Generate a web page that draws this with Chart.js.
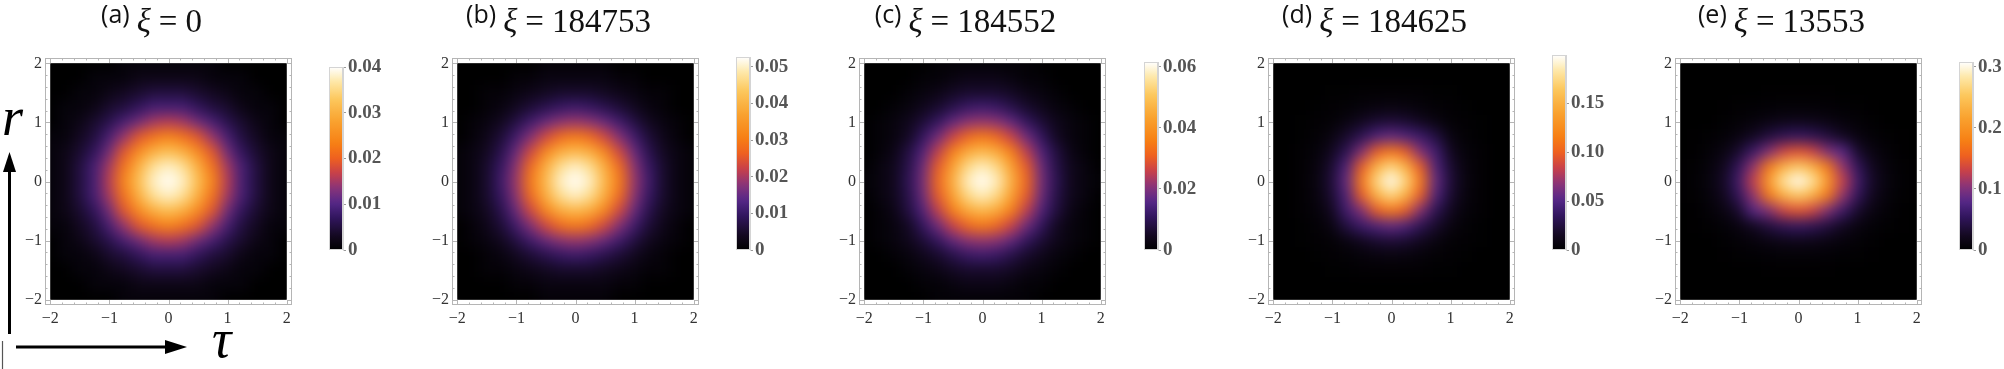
<!DOCTYPE html>
<html>
<head>
<meta charset="utf-8">
<script src="https://cdn.jsdelivr.net/npm/chart.js@4.4.1/dist/chart.umd.min.js"></script>
<style>
html, body { margin: 0; padding: 0; background: #fff; }
body { width: 2004px; height: 369px; position: relative; overflow: hidden; }
canvas { position: absolute; top: 0; }
</style>
</head>
<body>
<script>
// grid of the density plots (tau along x, r along y, rows listed top to bottom)
const tauGrid = [-2, -1.75, -1.5, -1.25, -1, -0.75, -0.5, -0.25, 0, 0.25, 0.5, 0.75, 1, 1.25, 1.5, 1.75, 2];
const rGrid = [2, 1.75, 1.5, 1.25, 1, 0.75, 0.5, 0.25, 0, -0.25, -0.5, -0.75, -1, -1.25, -1.5, -1.75, -2];
const DENSITY_UNIT = 1e-3; // matrices below are in units of 10^-3

const densityA = [
    [0,0,0,0,0,1,1,1,1,1,1,1,0,0,0,0,0],
    [0,0,0,1,1,1,2,2,2,2,2,1,1,1,0,0,0],
    [0,0,1,1,2,3,4,5,5,5,4,3,2,1,1,0,0],
    [0,1,1,2,4,5,7,9,9,9,7,5,4,2,1,1,0],
    [0,1,2,4,6,9,12,15,16,15,12,9,6,4,2,1,0],
    [1,1,3,5,9,14,19,22,24,22,19,14,9,5,3,1,1],
    [1,2,4,7,12,19,25,30,32,30,25,19,12,7,4,2,1],
    [1,2,5,9,15,22,30,36,38,36,30,22,15,9,5,2,1],
    [1,2,5,9,16,24,32,38,40,38,32,24,16,9,5,2,1],
    [1,2,5,9,15,22,30,36,38,36,30,22,15,9,5,2,1],
    [1,2,4,7,12,19,25,30,32,30,25,19,12,7,4,2,1],
    [1,1,3,5,9,14,19,22,24,22,19,14,9,5,3,1,1],
    [0,1,2,4,6,9,12,15,16,15,12,9,6,4,2,1,0],
    [0,1,1,2,4,5,7,9,9,9,7,5,4,2,1,1,0],
    [0,0,1,1,2,3,4,5,5,5,4,3,2,1,1,0,0],
    [0,0,0,1,1,1,2,2,2,2,2,1,1,1,0,0,0],
    [0,0,0,0,0,1,1,1,1,1,1,1,0,0,0,0,0]
];

const densityB = [
    [0,0,0,0,0,0,1,1,1,1,1,0,0,0,0,0,0],
    [0,0,0,0,1,1,2,2,2,2,2,1,1,0,0,0,0],
    [0,0,1,1,2,3,4,5,5,5,4,3,2,1,1,0,0],
    [0,0,1,2,4,6,8,10,11,10,8,6,4,2,1,0,0],
    [0,1,2,4,7,11,15,18,19,18,15,11,7,4,2,1,0],
    [0,1,3,6,11,17,23,28,30,28,23,17,11,6,3,1,0],
    [1,2,4,8,15,23,32,39,41,39,32,23,15,8,4,2,1],
    [1,2,5,10,18,28,39,47,50,47,39,28,18,10,5,2,1],
    [1,2,5,11,19,30,41,50,53,50,41,30,19,11,5,2,1],
    [1,2,5,10,18,28,39,47,50,47,39,28,18,10,5,2,1],
    [1,2,4,8,15,23,32,39,41,39,32,23,15,8,4,2,1],
    [0,1,3,6,11,17,23,28,30,28,23,17,11,6,3,1,0],
    [0,1,2,4,7,11,15,18,19,18,15,11,7,4,2,1,0],
    [0,0,1,2,4,6,8,10,11,10,8,6,4,2,1,0,0],
    [0,0,1,1,2,3,4,5,5,5,4,3,2,1,1,0,0],
    [0,0,0,0,1,1,2,2,2,2,2,1,1,0,0,0,0],
    [0,0,0,0,0,0,1,1,1,1,1,0,0,0,0,0,0]
];

const densityC = [
    [0,0,0,0,0,1,1,1,1,1,1,1,0,0,0,0,0],
    [0,0,0,0,1,1,2,3,3,3,2,1,1,0,0,0,0],
    [0,0,0,1,2,3,5,6,6,6,5,3,2,1,0,0,0],
    [0,0,1,2,4,6,9,12,13,12,9,6,4,2,1,0,0],
    [0,1,2,4,7,11,17,21,22,21,17,11,7,4,2,1,0],
    [0,1,2,5,11,18,26,32,35,32,26,18,11,5,2,1,0],
    [0,1,3,8,15,25,36,45,48,45,36,25,15,8,3,1,0],
    [0,2,4,9,18,30,43,54,58,54,43,30,18,9,4,2,0],
    [1,2,4,10,19,32,46,58,62,58,46,32,19,10,4,2,1],
    [0,2,4,9,18,30,43,54,58,54,43,30,18,9,4,2,0],
    [0,1,3,8,15,25,36,45,48,45,36,25,15,8,3,1,0],
    [0,1,2,5,11,18,26,32,35,32,26,18,11,5,2,1,0],
    [0,1,2,4,7,11,17,21,22,21,17,11,7,4,2,1,0],
    [0,0,1,2,4,6,9,12,13,12,9,6,4,2,1,0,0],
    [0,0,0,1,2,3,5,6,6,6,5,3,2,1,0,0,0],
    [0,0,0,0,1,1,2,3,3,3,2,1,1,0,0,0,0],
    [0,0,0,0,0,1,1,1,1,1,1,1,0,0,0,0,0]
];

const densityD = [
    [0,0,0,0,0,0,0,0,0,0,0,0,0,0,0,0,0],
    [0,0,0,0,0,0,0,0,0,0,0,0,0,0,0,0,0],
    [0,0,0,0,1,1,2,2,2,2,2,1,1,0,0,0,0],
    [0,0,0,1,2,3,5,7,8,7,5,3,2,1,0,0,0],
    [0,0,1,2,3,8,15,21,24,21,15,8,3,2,1,0,0],
    [0,0,1,3,8,19,32,48,56,48,40,26,8,3,1,0,0],
    [0,0,2,5,15,32,64,98,113,98,64,42,15,5,2,0,0],
    [0,0,2,7,21,48,98,150,173,150,98,48,21,7,2,0,0],
    [0,0,2,8,24,56,113,173,199,173,113,56,24,8,2,0,0],
    [0,0,2,7,21,48,98,150,173,150,98,48,21,7,2,0,0],
    [0,0,2,5,15,42,64,98,113,98,64,32,15,5,2,0,0],
    [0,0,1,3,8,26,40,48,56,48,32,19,8,3,1,0,0],
    [0,0,1,2,3,8,15,21,24,21,15,8,3,2,1,0,0],
    [0,0,0,1,2,3,5,7,8,7,5,3,2,1,0,0,0],
    [0,0,0,0,1,1,2,2,2,2,2,1,1,0,0,0,0],
    [0,0,0,0,0,0,0,0,0,0,0,0,0,0,0,0,0],
    [0,0,0,0,0,0,0,0,0,0,0,0,0,0,0,0,0]
];

const densityE = [
    [0,0,0,0,0,0,0,0,0,0,0,0,0,0,0,0,0],
    [0,0,0,0,0,0,0,0,0,0,0,0,0,0,0,0,0],
    [0,0,0,0,0,0,1,1,1,1,1,0,0,0,0,0,0],
    [0,0,0,1,2,3,4,5,5,5,4,3,2,1,0,0,0],
    [0,0,0,2,5,9,14,18,20,18,14,9,5,2,0,0,0],
    [0,1,2,5,12,24,39,52,58,52,39,24,12,5,2,1,0],
    [0,1,5,13,31,62,99,133,146,133,99,80,31,13,5,1,0],
    [1,2,8,23,55,108,174,232,256,232,174,108,55,23,8,2,1],
    [1,3,10,28,66,130,209,280,308,280,209,130,66,28,10,3,1],
    [1,2,8,23,55,108,174,232,256,232,174,108,55,23,8,2,1],
    [0,1,5,13,31,80,99,133,146,133,99,62,31,13,5,1,0],
    [0,1,2,5,12,24,39,52,58,52,39,24,12,5,2,1,0],
    [0,0,0,2,5,9,14,18,20,18,14,9,5,2,0,0,0],
    [0,0,0,1,2,3,4,5,5,5,4,3,2,1,0,0,0],
    [0,0,0,0,0,0,1,1,1,1,1,0,0,0,0,0,0],
    [0,0,0,0,0,0,0,0,0,0,0,0,0,0,0,0,0],
    [0,0,0,0,0,0,0,0,0,0,0,0,0,0,0,0,0]
];

const densities = [densityA, densityB, densityC, densityD, densityE];
const panelLabels = ['(a)', '(b)', '(c)', '(d)', '(e)'];
const xiValues = ['0', '184753', '184552', '184625', '13553'];
const axisTicks = [-2, -1, 0, 1, 2];
const colorbarMax = [0.040, 0.0527, 0.0616, 0.199, 0.308];
const colorbarTicks = [
    [0, 0.01, 0.02, 0.03, 0.04],
    [0, 0.01, 0.02, 0.03, 0.04, 0.05],
    [0, 0.02, 0.04, 0.06],
    [0, 0.05, 0.10, 0.15],
    [0, 0.1, 0.2, 0.3]
];
const colorbarTickLabels = [
    ['0', '0.01', '0.02', '0.03', '0.04'],
    ['0', '0.01', '0.02', '0.03', '0.04', '0.05'],
    ['0', '0.02', '0.04', '0.06'],
    ['0', '0.05', '0.10', '0.15'],
    ['0', '0.1', '0.2', '0.3']
];

// page layout
const frameLeft = [45, 452, 859, 1268, 1675];
const colorbarLeft = [329, 736, 1144, 1552, 1959];
const colorbarTop = [67, 57, 62, 55, 62];
const COLORBAR_BOTTOM = 250;
const H = 369;

const SERIF = '"Liberation Serif", "Times New Roman", serif';
const SUNSET = [
    [0.00, [0, 0, 0]],
    [0.08, [20, 9, 34]],
    [0.18, [50, 22, 96]],
    [0.26, [86, 40, 136]],
    [0.34, [138, 52, 120]],
    [0.42, [200, 64, 74]],
    [0.50, [238, 96, 32]],
    [0.58, [247, 127, 20]],
    [0.70, [249, 161, 46]],
    [0.82, [252, 198, 90]],
    [0.92, [254, 232, 168]],
    [1.00, [255, 255, 255]]
];

function colormap(t) {
    t = Math.max(0, Math.min(1, t));
    for (let i = 1; i < SUNSET.length; i++) {
        if (t <= SUNSET[i][0]) {
            const [t0, c0] = SUNSET[i - 1];
            const [t1, c1] = SUNSET[i];
            const f = (t - t0) / (t1 - t0);
            const c = c0.map((v, k) => Math.round(v + (c1[k] - v) * f));
            return `rgb(${c[0]},${c[1]},${c[2]})`;
        }
    }
    return 'rgb(255,255,255)';
}

function heatmapPoints(matrix) {
    const points = [];
    matrix.forEach((row, i) => {
        row.forEach((v, j) => {
            points.push({x: tauGrid[j], y: rGrid[i], v: v * DENSITY_UNIT});
        });
    });
    return points;
}

function fmtTick(value) {
    return value < 0 ? '\u2212' + Math.abs(value) : String(value);
}

const heatmapPlugin = {
    id: 'heatmap',
    beforeDatasetsDraw(chart, args, opts) {
        const {ctx, scales: {x, y}} = chart;
        const left = x.getPixelForValue(-2), right = x.getPixelForValue(2);
        const top = y.getPixelForValue(2), bottom = y.getPixelForValue(-2);
        const off = document.createElement('canvas');
        off.width = chart.width;
        off.height = chart.height;
        const oc = off.getContext('2d');
        const half = 0.125;
        chart.data.datasets[0].data.forEach(p => {
            const x0 = Math.floor(x.getPixelForValue(p.x - half));
            const x1 = Math.ceil(x.getPixelForValue(p.x + half));
            const y0 = Math.floor(y.getPixelForValue(p.y + half));
            const y1 = Math.ceil(y.getPixelForValue(p.y - half));
            oc.fillStyle = colormap(p.v / opts.max);
            oc.fillRect(x0, y0, x1 - x0, y1 - y0);
        });
        ctx.save();
        ctx.beginPath();
        ctx.rect(left, top, right - left, bottom - top);
        ctx.clip();
        ctx.fillStyle = '#000';
        ctx.fillRect(left, top, right - left, bottom - top);
        ctx.filter = 'blur(7px)';
        ctx.drawImage(off, 0, 0);
        ctx.restore();
    }
};

// Mathematica style frame with inward ticks
const framePlugin = {
    id: 'frame',
    afterDraw(chart) {
        const {ctx, chartArea: a, scales: {x, y}} = chart;
        ctx.save();
        ctx.strokeStyle = '#b5b5b5';
        ctx.lineWidth = 1;
        ctx.strokeRect(a.left + 0.5, a.top + 0.5, a.width - 1, a.height - 1);
        ctx.beginPath();
        for (let k = -10; k <= 10; k++) {
            const v = k / 5;
            const len = k % 5 === 0 ? 5 : 2.5;
            const px = Math.round(x.getPixelForValue(v)) + 0.5;
            const py = Math.round(y.getPixelForValue(v)) + 0.5;
            ctx.moveTo(px, a.bottom); ctx.lineTo(px, a.bottom - len);
            ctx.moveTo(px, a.top); ctx.lineTo(px, a.top + len);
            ctx.moveTo(a.left, py); ctx.lineTo(a.left + len, py);
            ctx.moveTo(a.right, py); ctx.lineTo(a.right - len, py);
        }
        ctx.stroke();
        ctx.restore();
    }
};

const titlePlugin = {
    id: 'panelTitle',
    afterDraw(chart, args, opts) {
        const {ctx, chartArea: a} = chart;
        const parts = [
            {text: opts.label, font: '25px "Open Sans", sans-serif', gap: 7, base: 23},
            {text: '\u03BE', font: `italic 33px ${SERIF}`, gap: 8, base: 32},
            {text: '=', font: `33px ${SERIF}`, gap: 8, base: 32},
            {text: opts.xi, font: `33px ${SERIF}`, gap: 0, base: 32}
        ];
        ctx.save();
        let total = 0;
        parts.forEach(p => {
            ctx.font = p.font;
            p.w = ctx.measureText(p.text).width;
            total += p.w + p.gap;
        });
        let cx = (a.left + a.right) / 2 - 17 - total / 2;
        ctx.fillStyle = '#111';
        ctx.textBaseline = 'alphabetic';
        parts.forEach(p => {
            ctx.font = p.font;
            ctx.fillText(p.text, cx, p.base);
            cx += p.w + p.gap;
        });
        ctx.restore();
    }
};

// r / tau arrows drawn only on the first panel
const arrowsPlugin = {
    id: 'axisArrows',
    afterDraw(chart) {
        const ctx = chart.ctx;
        ctx.save();
        ctx.fillStyle = '#000';
        ctx.strokeStyle = '#000';
        ctx.lineWidth = 3;
        ctx.beginPath(); ctx.moveTo(9.5, 334); ctx.lineTo(9.5, 168); ctx.stroke();
        ctx.beginPath(); ctx.moveTo(9.5, 152); ctx.lineTo(3, 172); ctx.lineTo(16, 172); ctx.closePath(); ctx.fill();
        ctx.beginPath(); ctx.moveTo(16, 347); ctx.lineTo(168, 347); ctx.stroke();
        ctx.beginPath(); ctx.moveTo(187, 347); ctx.lineTo(165, 340); ctx.lineTo(165, 354); ctx.closePath(); ctx.fill();
        ctx.strokeStyle = '#555';
        ctx.lineWidth = 1.2;
        ctx.beginPath(); ctx.moveTo(2.5, 341); ctx.lineTo(2.5, 369); ctx.stroke();
        ctx.font = `italic 54px ${SERIF}`;
        ctx.fillText('r', 2, 135);
        ctx.fillText('\u03C4', 212, 357);
        ctx.restore();
    }
};

const barFramePlugin = {
    id: 'barFrame',
    afterDraw(chart) {
        const {ctx, chartArea: a} = chart;
        ctx.save();
        ctx.strokeStyle = '#d4d4d4';
        ctx.lineWidth = 1;
        ctx.strokeRect(a.left + 0.5, a.top + 0.5, a.width - 1, a.height - 1);
        ctx.restore();
    }
};

function barGradient(chart) {
    const a = chart.chartArea;
    if (!a) return '#000';
    const g = chart.ctx.createLinearGradient(0, a.bottom, 0, a.top);
    for (let s = 0; s <= 40; s++) g.addColorStop(s / 40, colormap(s / 40));
    return g;
}

function addCanvas(left, width) {
    const c = document.createElement('canvas');
    c.width = width;
    c.height = H;
    c.style.left = left + 'px';
    c.style.width = width + 'px';
    c.style.height = H + 'px';
    document.body.appendChild(c);
    return c;
}

const tickFont = {family: SERIF, size: 16};

densities.forEach((matrix, k) => {
    const main = addCanvas(frameLeft[k] - 45, 320);
    const plugins = [heatmapPlugin, framePlugin, titlePlugin];
    if (k === 0) plugins.push(arrowsPlugin);
    new Chart(main, {
        type: 'scatter',
        data: {
            datasets: [{
                data: heatmapPoints(matrix),
                pointRadius: 0,
                showLine: false
            }]
        },
        options: {
            responsive: false,
            animation: false,
            events: [],
            layout: {padding: {left: 5, right: 28, top: 58, bottom: 34}},
            plugins: {
                legend: {display: false},
                tooltip: {enabled: false},
                heatmap: {max: colorbarMax[k]},
                panelTitle: {label: panelLabels[k], xi: xiValues[k]}
            },
            scales: {
                x: {
                    type: 'linear',
                    min: -2.09,
                    max: 2.09,
                    afterBuildTicks: s => { s.ticks = axisTicks.map(v => ({value: v})); },
                    afterFit: s => { s.height = 30; },
                    grid: {display: false, drawTicks: false},
                    border: {display: false},
                    ticks: {callback: fmtTick, font: tickFont, color: '#333', padding: 4, maxRotation: 0, autoSkip: false}
                },
                y: {
                    type: 'linear',
                    min: -2.09,
                    max: 2.09,
                    afterBuildTicks: s => { s.ticks = axisTicks.map(v => ({value: v})); },
                    afterFit: s => { s.width = 40; },
                    grid: {display: false, drawTicks: false},
                    border: {display: false},
                    ticks: {callback: fmtTick, font: tickFont, color: '#333', padding: 3, autoSkip: false}
                }
            }
        },
        plugins: plugins
    });

    const bar = addCanvas(colorbarLeft[k] - 2, 70);
    const ticks = colorbarTicks[k];
    const labels = colorbarTickLabels[k];
    new Chart(bar, {
        type: 'bar',
        data: {
            labels: [''],
            datasets: [{
                data: [colorbarMax[k]],
                backgroundColor: ctx => barGradient(ctx.chart),
                borderWidth: 0,
                barPercentage: 1,
                categoryPercentage: 1
            }]
        },
        options: {
            responsive: false,
            animation: false,
            events: [],
            layout: {padding: {left: 2, right: 0, top: colorbarTop[k], bottom: H - COLORBAR_BOTTOM}},
            plugins: {legend: {display: false}, tooltip: {enabled: false}},
            scales: {
                x: {display: false},
                y: {
                    position: 'right',
                    min: 0,
                    max: colorbarMax[k],
                    afterBuildTicks: s => { s.ticks = ticks.map(v => ({value: v})); },
                    afterFit: s => { s.width = 54; },
                    grid: {drawOnChartArea: false, tickLength: 3, color: '#999'},
                    border: {color: '#d4d4d4'},
                    ticks: {
                        callback: (v, i) => labels[i],
                        font: {family: SERIF, size: 19, weight: 'bold'},
                        color: '#555',
                        padding: 2,
                        autoSkip: false
                    }
                }
            }
        },
        plugins: [barFramePlugin]
    });
});
</script>
</body>
</html>
